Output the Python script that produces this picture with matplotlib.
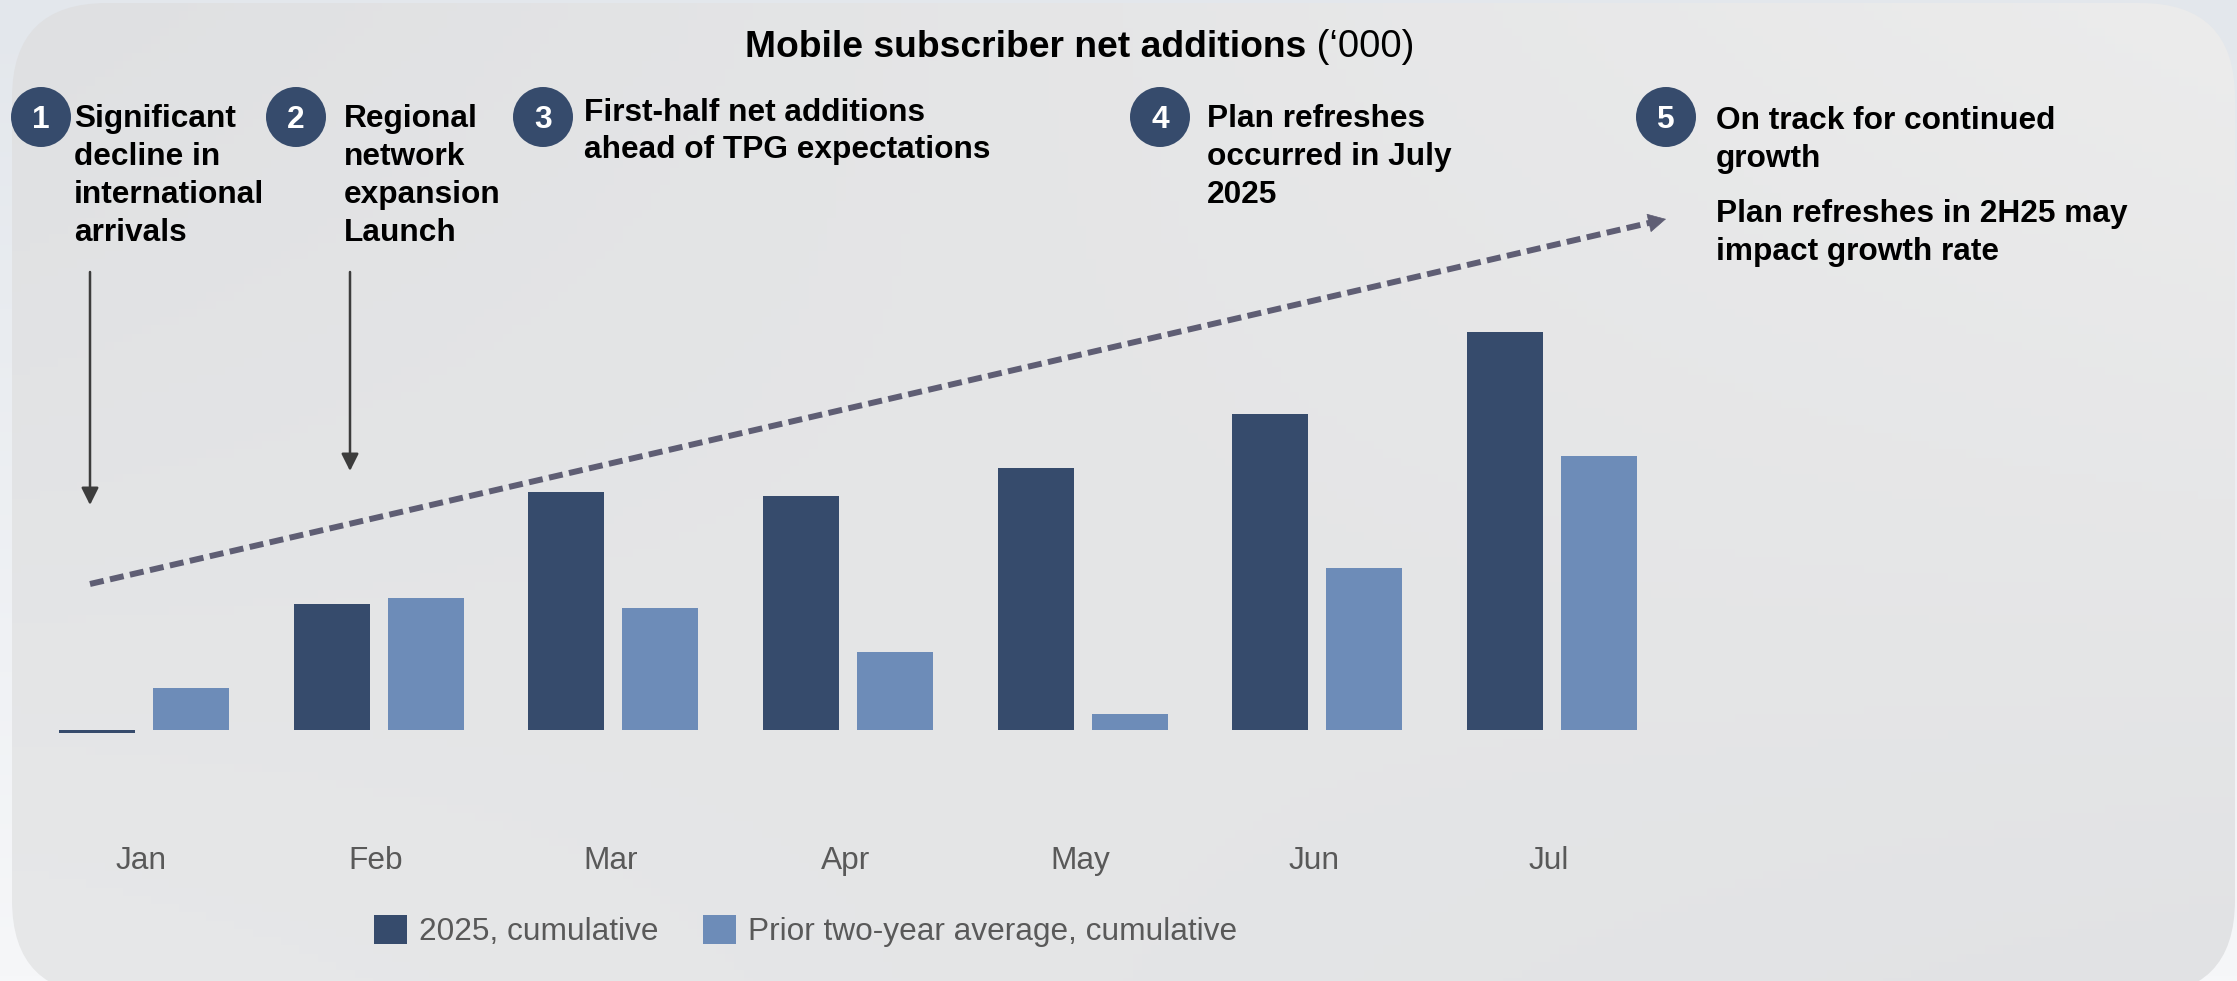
import numpy as np
import matplotlib
matplotlib.use("Agg")
import matplotlib.pyplot as plt
from matplotlib.patches import Circle, FancyBboxPatch
from matplotlib.colors import to_rgb
from matplotlib.transforms import blended_transform_factory

plt.rcParams['font.family'] = ['Liberation Sans', 'DejaVu Sans']

# data ('000)
months = ['Jan', 'Feb', 'Mar', 'Apr', 'May', 'Jun', 'Jul']
net_adds_2025 = [-0.6, 25.2, 47.6, 46.8, 52.4, 63.2, 79.6]
prior_two_year_avg = [8.4, 26.4, 24.4, 15.6, 3.2, 32.4, 54.8]
series_labels = ['2025, cumulative', 'Prior two-year average, cumulative']

callout_numbers = ['1', '2', '3', '4', '5']
callout_texts = [
    'Significant\ndecline in\ninternational\narrivals',
    'Regional\nnetwork\nexpansion\nLaunch',
    'First-half net additions\nahead of TPG expectations',
    'Plan refreshes\noccurred in July\n2025',
    'On track for continued\ngrowth',
]
outlook_note = 'Plan refreshes in 2H25 may\nimpact growth rate'

DARK = '#364b6c'
LIGHT = '#6d8cb8'
ARROW = '#3c3c3c'
TREND = '#5f5e74'
LABEL = '#595959'
FS = 22.8

W, H = 2237, 981
fig = plt.figure(figsize=(W / 100, H / 100), dpi=100)
fig.patch.set_facecolor('#eceef2')

# background: outer wash + rounded panel with a soft gradient
bg = fig.add_axes([0, 0, 1, 1], zorder=0)
outer = np.linspace(0, 1, 200)[:, None, None]
outer_img = (1 - outer) * np.array(to_rgb('#e3e7ec')) + outer * np.array(to_rgb('#f6f7f9'))
bg.imshow(np.repeat(outer_img, 2, axis=1), extent=(0, W, H, 0), aspect='auto')

panel = FancyBboxPatch((12, 3), 2223, 992, boxstyle='round,pad=0,rounding_size=95',
                       fc='none', ec='none')
bg.add_patch(panel)
gy, gx = np.mgrid[0:1:120j, 0:1:240j]
corners = {k: np.array(to_rgb(v)) for k, v in
           dict(tl='#dfe0e2', tr='#ececec', bl='#e7e8e9', br='#e1e2e4').items()}
panel_img = ((1 - gx)[..., None] * (1 - gy)[..., None] * corners['tl']
             + gx[..., None] * (1 - gy)[..., None] * corners['tr']
             + (1 - gx)[..., None] * gy[..., None] * corners['bl']
             + gx[..., None] * gy[..., None] * corners['br'])
im = bg.imshow(panel_img, extent=(12, 2235, 995, 3), aspect='auto')
im.set_clip_path(panel)
bg.set_xlim(0, W)
bg.set_ylim(H, 0)
bg.axis('off')

# bar chart
ax = fig.add_axes([3.2 / W, (H - 780) / H, 1689.6 / W, 550 / H], zorder=1)
ax.patch.set_alpha(0)
x = np.arange(len(months))
bw = 0.324
b1 = ax.bar(x - 0.2, net_adds_2025, bw, color=DARK, label=series_labels[0])
b2 = ax.bar(x + 0.2, prior_two_year_avg, bw, color=LIGHT, label=series_labels[1])
ax.set_xlim(-0.6, 6.6)
ax.set_ylim(-10, 100)
ax.axis('off')

# overlay in pixel coordinates for text and arrows
ov = fig.add_axes([0, 0, 1, 1], zorder=2)
ov.patch.set_alpha(0)
ov.set_xlim(0, W)
ov.set_ylim(H, 0)
ov.axis('off')

lbl_tf = blended_transform_factory(ax.transData, ov.transData)
for i, m in enumerate(months):
    ov.text(x[i] - 0.012, 869, m, transform=lbl_tf, ha='center', va='baseline',
            fontsize=FS, color=LABEL)

leg = fig.legend(handles=[b1, b2], labels=series_labels, loc='center left',
                 bbox_to_anchor=(374 / W, 1 - 931 / H), ncol=2, frameon=False,
                 fontsize=FS, handlelength=1.04, handleheight=1.04,
                 handletextpad=0.38, columnspacing=1.42, borderpad=0,
                 borderaxespad=0)
for t in leg.get_texts():
    t.set_color(LABEL)

# title
t1 = ov.text(745, 57, 'Mobile subscriber net additions', fontsize=26.8,
             fontweight='bold', va='baseline', color='black')
ov.annotate(' (\u2018000)', xy=(1, 0), xycoords=t1, va='bottom', ha='left',
            fontsize=27.5, color='black')


def text_block(x0, y0, txt, pitch=38):
    for k, line in enumerate(txt.split('\n')):
        ov.text(x0, y0 + k * pitch, line, fontsize=FS, fontweight='bold',
                va='baseline', ha='left', color='black')


circle_x = [41, 296, 543, 1160, 1666]
text_x = [74, 344, 584, 1207, 1716]
text_y = [127, 127, 121, 127, 129]
for cx, tx, ty, num, txt in zip(circle_x, text_x, text_y, callout_numbers, callout_texts):
    ov.add_patch(Circle((cx, 117), 30, color=DARK, lw=0))
    ov.text(cx, 128.5, num, fontsize=FS, fontweight='bold', color='white',
            ha='center', va='baseline')
    text_block(tx, ty, txt, pitch=37 if num == '3' else 38)
text_block(1716, 222, outlook_note)

# vertical pointers for callouts 1 and 2
for px, tip in [(90, 505), (350, 471)]:
    ov.annotate('', xy=(px, tip), xytext=(px, 272),
                arrowprops=dict(arrowstyle='-|>,head_length=0.52,head_width=0.26',
                                mutation_scale=20, lw=1.8, color=ARROW,
                                shrinkA=0, shrinkB=0))

# dashed trend arrow
start = np.array([90.0, 584.0])
tip = np.array([1666.0, 219.0])
u = (tip - start) / np.linalg.norm(tip - start)
base = tip - 17 * u
ov.plot([start[0], base[0]], [start[1], base[1]], color=TREND, lw=4.3,
        dashes=(2.35, 1.08), solid_capstyle='butt')
ov.annotate('', xy=tuple(tip), xytext=tuple(base),
            arrowprops=dict(arrowstyle='-|>,head_length=0.6,head_width=0.32',
                            mutation_scale=20, lw=0.5, color=TREND,
                            shrinkA=0, shrinkB=0))

fig.savefig('out.png', dpi=100, facecolor=fig.get_facecolor())
